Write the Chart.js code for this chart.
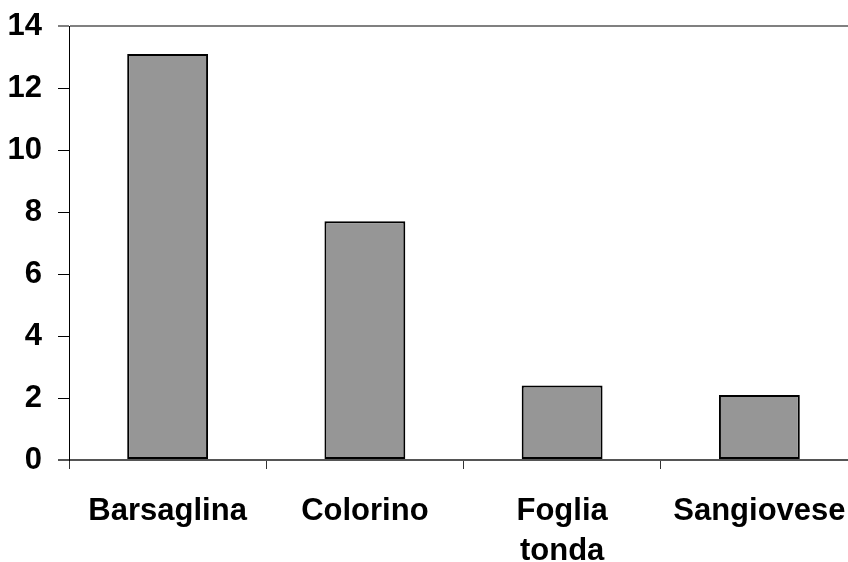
<!DOCTYPE html>
<html>
<head>
<meta charset="utf-8">
<script src="https://cdn.jsdelivr.net/npm/chart.js@4"></script>
<style>
  html, body { margin: 0; padding: 0; background: #fff; overflow: hidden; }
  canvas { display: block; }
</style>
</head>
<body>
<canvas id="myChart" width="860" height="562"></canvas>
<script>
var Varieta = ['Barsaglina', 'Colorino', ['Foglia', 'tonda'], 'Sangiovese']
var Valori = [13.1, 7.7, 2.4, 2.1]
var TickY = [0, 2, 4, 6, 8, 10, 12, 14]

var ctx = document.getElementById('myChart');

var myChart = new Chart(ctx, {
    type: 'bar',
    data: {
        labels: Varieta,
        datasets: [{
            data: Valori,
            backgroundColor: '#969696',
            borderColor: '#000',
            borderWidth: 2,
            borderSkipped: false,
            barPercentage: 0.41,
            categoryPercentage: 1
        }]
    },
    options: {
        responsive: false,
        animation: false,
        layout: { padding: { top: 26, right: 2, left: 0, bottom: 0 } },
        plugins: { legend: { display: false }, tooltip: { enabled: false } },
        scales: {
            x: {
                offset: true,
                border: { display: true, color: '#555', width: 2 },
                grid: { offset: true, drawOnChartArea: false, tickLength: 9, color: '#333' },
                ticks: {
                    color: '#000',
                    padding: 22,
                    maxRotation: 0,
                    autoSkip: false,
                    font: { family: 'Liberation Sans, Arial', size: 31, weight: 'bold', lineHeight: 1.29 }
                },
                afterFit: function (scale) {
                    scale.height = 102
                    scale.paddingLeft = 0
                    scale.paddingRight = 0
                }
            },
            y: {
                min: 0,
                max: 14,
                afterBuildTicks: function (scale) {
                    scale.ticks = TickY.map(function (v) { return { value: v } })
                },
                border: { display: true, color: '#000', width: 1 },
                grid: {
                    drawOnChartArea: true,
                    tickLength: 11,
                    color: function (c) {
                        if (c.tick.value == 14) return '#808080'
                        if (c.tick.value == 0) return '#555'
                        return 'rgba(0,0,0,0)'
                    },
                    tickColor: function (c) {
                        if (c.tick.value == 14) return '#808080'
                        if (c.tick.value == 0) return '#555'
                        return '#000'
                    },
                    lineWidth: function (c) {
                        return (c.tick.value == 14 || c.tick.value == 0) ? 2 : 1
                    }
                },
                ticks: {
                    color: '#000',
                    padding: 16,
                    font: { family: 'Liberation Sans, Arial', size: 31, weight: 'bold' }
                },
                afterFit: function (scale) {
                    scale.width = 69
                    scale.paddingTop = 0
                    scale.paddingBottom = 0
                }
            }
        }
    }
});
</script>
</body>
</html>
